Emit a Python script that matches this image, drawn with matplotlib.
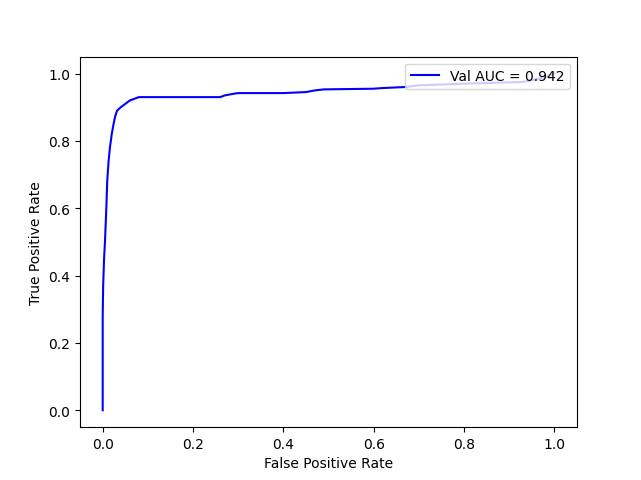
import matplotlib
matplotlib.use("Agg")
import matplotlib.pyplot as plt

# ROC curve points
fpr = [0.0, 0.0, 0.001, 0.003, 0.005, 0.008, 0.01, 0.013, 0.016, 0.02, 0.024,
       0.028, 0.032, 0.04, 0.05, 0.06, 0.07, 0.08, 0.15, 0.26, 0.27, 0.29,
       0.30, 0.40, 0.45, 0.47, 0.49, 0.60, 0.62, 0.67, 0.70, 0.80, 0.93,
       0.95, 0.98, 1.0]
tpr = [0.0, 0.28, 0.37, 0.45, 0.50, 0.60, 0.68, 0.74, 0.78, 0.82, 0.85,
       0.875, 0.89, 0.90, 0.91, 0.92, 0.925, 0.93, 0.93, 0.93, 0.935, 0.94,
       0.942, 0.942, 0.945, 0.95, 0.953, 0.955, 0.957, 0.96, 0.965, 0.97,
       0.975, 0.98, 0.99, 1.0]
auc = 0.942

plt.figure(figsize=(6.41, 4.81), dpi=100)
plt.plot(fpr, tpr, color='blue', label=f'Val AUC = {auc:.3f}')
plt.xlabel('False Positive Rate')
plt.ylabel('True Positive Rate')
plt.legend(loc='upper right')
plt.savefig('out.png', dpi=100)
